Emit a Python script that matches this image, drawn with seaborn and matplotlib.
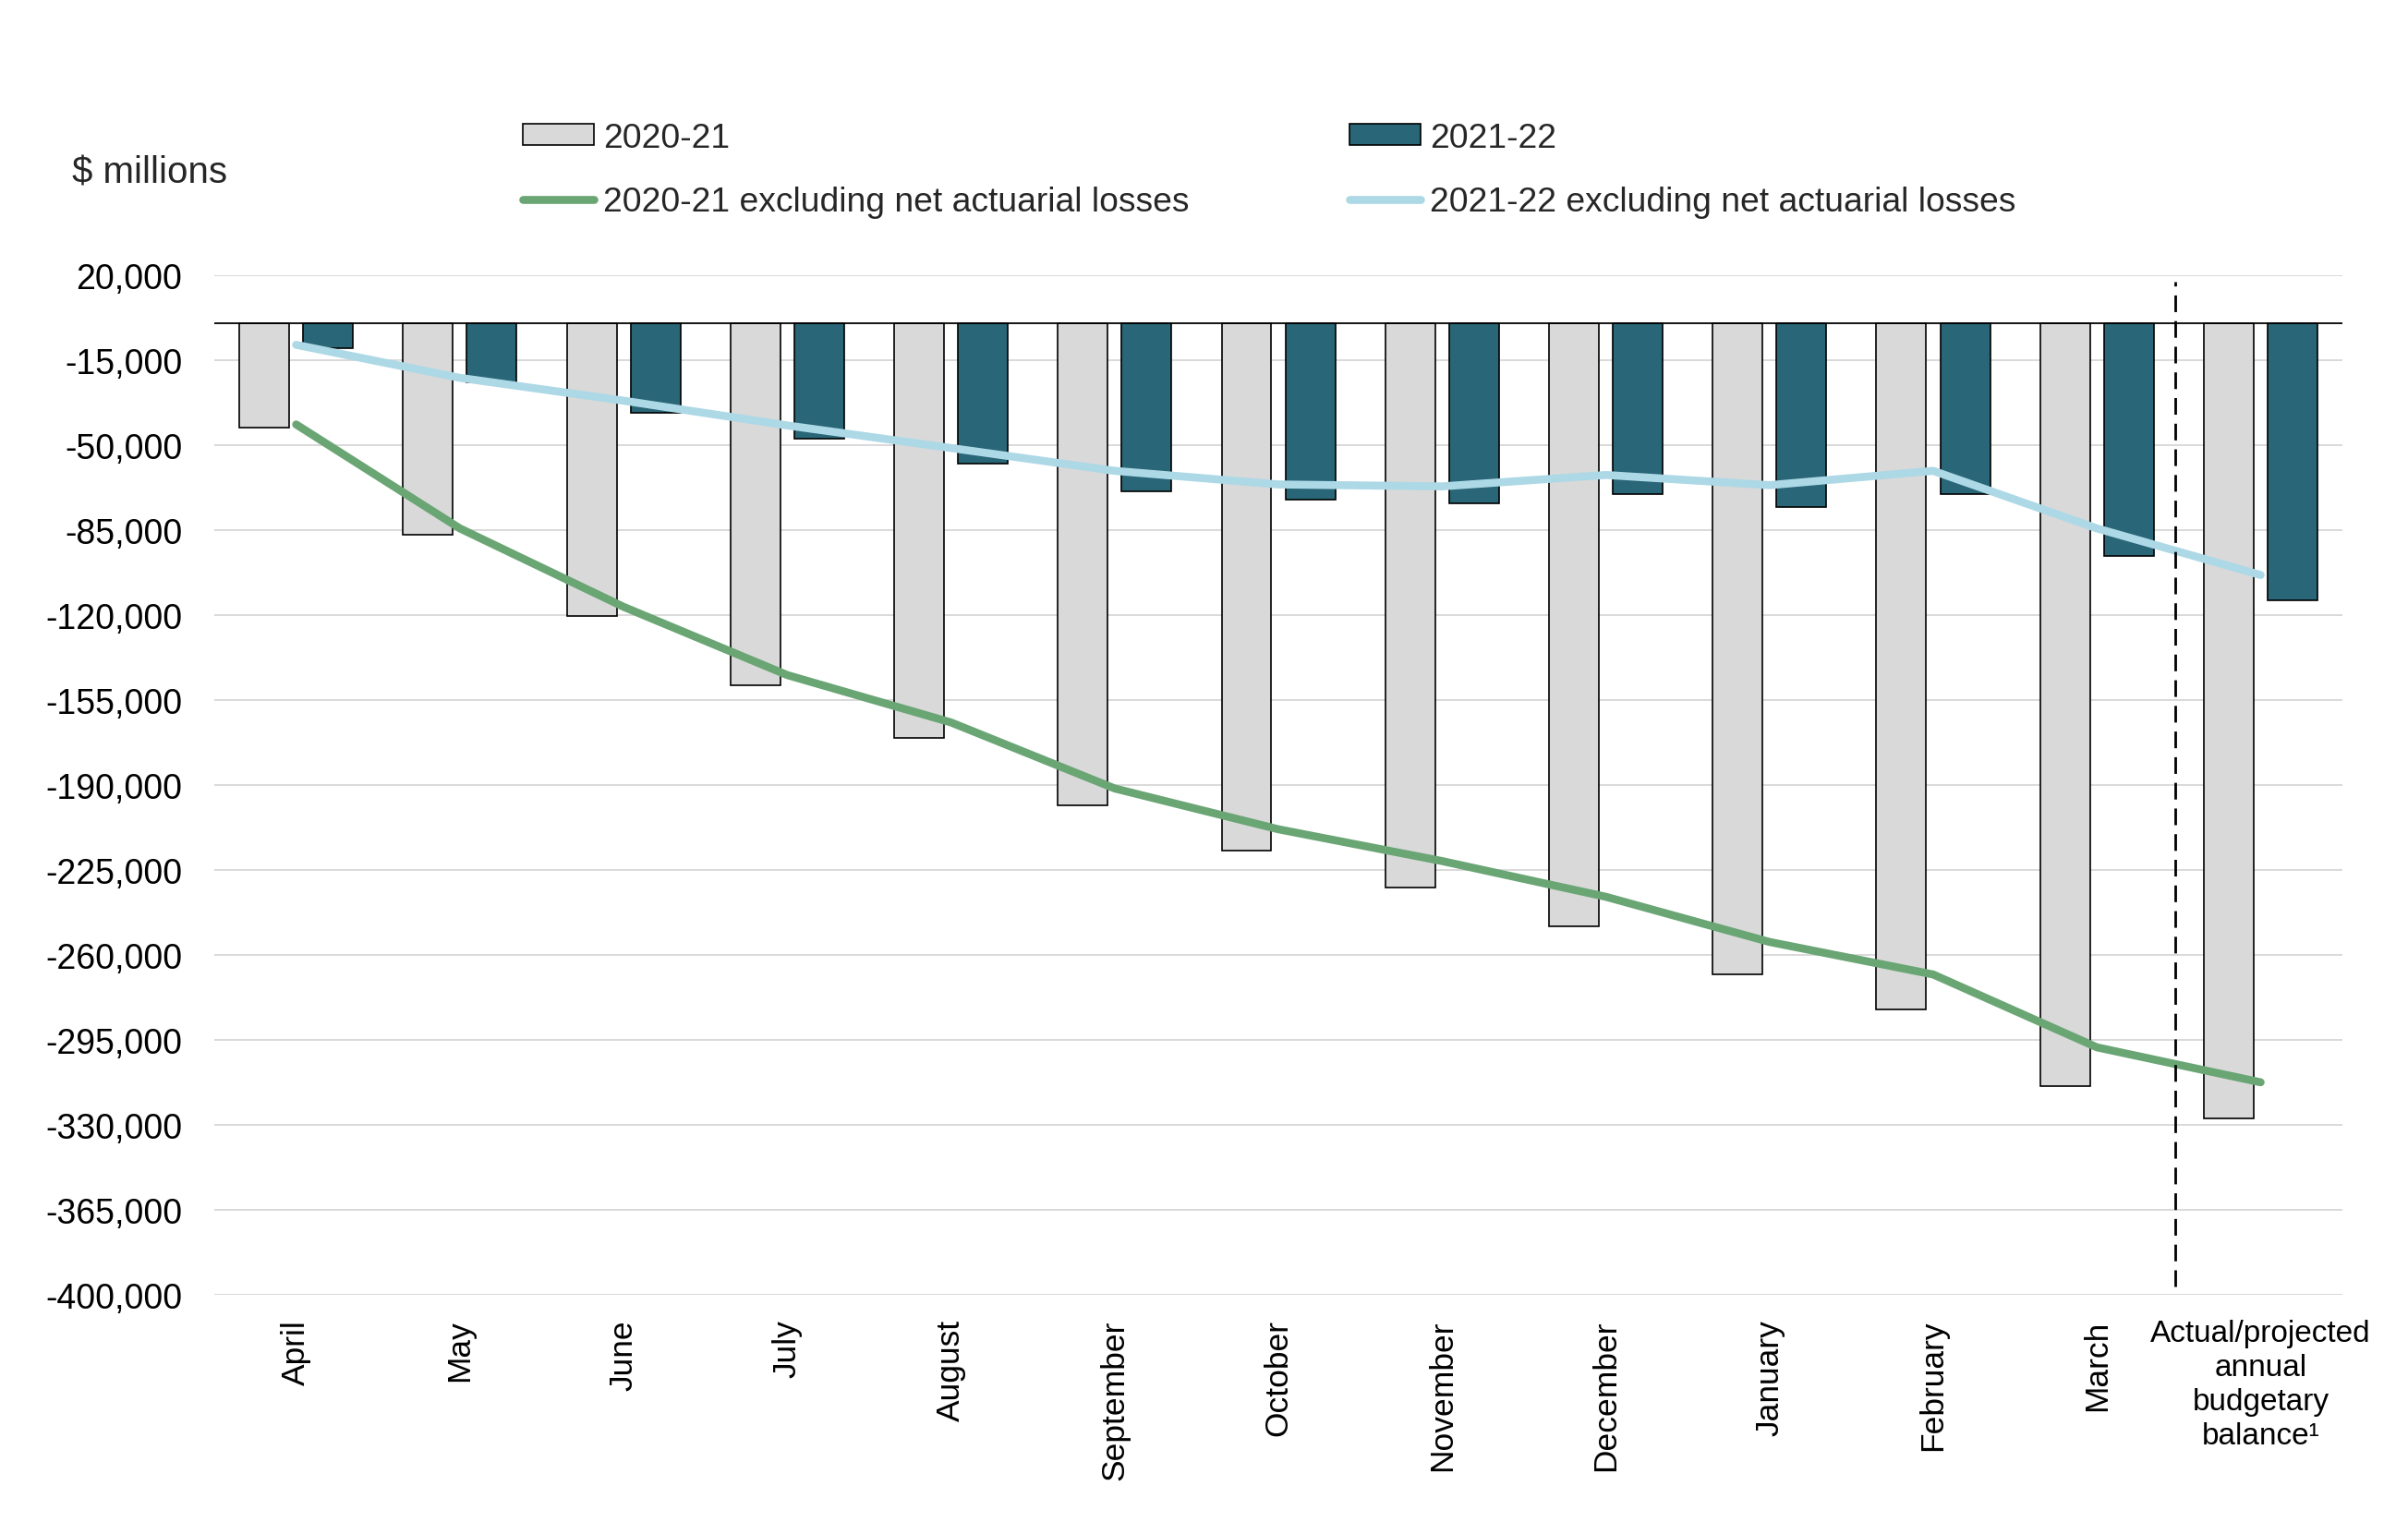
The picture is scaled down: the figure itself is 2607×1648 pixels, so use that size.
import numpy as np
import pandas as pd
import matplotlib
matplotlib.use("Agg")
import matplotlib.pyplot as plt
import seaborn as sns
from matplotlib.patches import Patch
from matplotlib.lines import Line2D
from matplotlib.ticker import FuncFormatter

sns.set_theme(style="white")
plt.rcParams["font.family"] = ["Liberation Sans", "DejaVu Sans"]

# ---- data ----
months = ["April", "May", "June", "July", "August", "September", "October",
          "November", "December", "January", "February", "March",
          "Actual/projected\nannual\nbudgetary\nbalance\u00b9"]
bal_2020_21 = [-43000, -87000, -120600, -149000, -170700, -198600, -216900,
               -232400, -248200, -268200, -282500, -314100, -327500]
bal_2021_22 = [-10000, -24100, -36900, -47600, -57600, -69000, -72500,
               -74100, -70300, -75600, -70200, -95800, -114200]
excl_2020_21 = [-41600, -84400, -116700, -144800, -164300, -191500, -208300,
                -221400, -236100, -254700, -268100, -298100, -312500]
excl_2021_22 = [-8800, -22400, -31800, -42000, -51300, -60700, -66300,
                -67100, -62400, -66600, -60700, -84400, -103600]
y_ticks = list(range(20000, -400001, -35000))

bar_series = ["2020-21", "2021-22"]
line_series = ["2020-21 excluding net actuarial losses",
               "2021-22 excluding net actuarial losses"]
colors = {"2020-21": "#d9d9d9", "2021-22": "#296677",
          line_series[0]: "#6aa574", line_series[1]: "#add8e6"}

bars_df = pd.DataFrame({
    "Month": months * 2,
    "Value": bal_2020_21 + bal_2021_22,
    "Year": [bar_series[0]] * len(months) + [bar_series[1]] * len(months),
})
lines_df = pd.DataFrame({
    "pos": list(range(len(months))) * 2,
    "Value": excl_2020_21 + excl_2021_22,
    "Series": [line_series[0]] * len(months) + [line_series[1]] * len(months),
})

# ---- figure ----
fig = plt.figure(figsize=(26.07, 16.49), dpi=100)
ax = fig.add_axes([0.089, 0.1492, 0.9728 - 0.089, 0.8189 - 0.1492])

sns.barplot(data=bars_df, x="Month", y="Value", hue="Year", order=months,
            hue_order=bar_series, palette=colors, saturation=1,
            width=0.78, gap=0.22, edgecolor="black", linewidth=1.2,
            errorbar=None, legend=False, ax=ax, zorder=2)
sns.lineplot(data=lines_df, x="pos", y="Value", hue="Series",
             hue_order=line_series, palette=colors, linewidth=6.2,
             sort=False, legend=False, ax=ax, zorder=4,
             solid_capstyle="round")

ax.axhline(0, color="black", lw=1.3, zorder=3)
ax.axvline(11.48, ymin=0.008, ymax=0.993, color="black", lw=2,
           dashes=(6.5, 3.5), zorder=5)

ax.set_xlim(-0.5, len(months) - 0.5)
ax.set_ylim(-400000, 20000)
ax.set_yticks(y_ticks)
ax.yaxis.set_major_formatter(FuncFormatter(lambda v, p: f"{int(v):,}"))
ax.yaxis.grid(True, color="#d9d9d9", lw=1.4)
ax.xaxis.grid(False)
ax.set_axisbelow(True)
for s in ax.spines.values():
    s.set_visible(False)
ax.set_xlabel("")
ax.set_ylabel("")
ax.tick_params(axis="y", length=0, pad=25, labelsize=27, colors="black")
ax.tick_params(axis="x", length=0, pad=19, labelsize=25.5, colors="black")

ticklabels = ax.get_xticklabels()
for lbl in ticklabels[:-1]:
    lbl.set_rotation(90)
ticklabels[-1].set_rotation(0)
ticklabels[-1].set_fontsize(24)
ticklabels[-1].set_linespacing(1.25)
ticklabels[-1].set_ha("center")

fig.text(0.0301, 0.8862, "$ millions", ha="left", va="center", fontsize=29)

handles = [
    Patch(facecolor=colors["2020-21"], edgecolor="black", lw=1.2),
    Line2D([], [], color=colors[line_series[0]], lw=6.2, solid_capstyle="round"),
    Patch(facecolor=colors["2021-22"], edgecolor="black", lw=1.2),
    Line2D([], [], color=colors[line_series[1]], lw=6.2, solid_capstyle="round"),
]
labels = [bar_series[0], line_series[0], bar_series[1], line_series[1]]
fig.legend(handles, labels, loc="upper left", bbox_to_anchor=(0.2170, 0.9195),
           bbox_transform=fig.transFigure, ncol=2, frameon=False,
           fontsize=26.8, borderpad=0, borderaxespad=0, handlelength=2.08,
           handleheight=0.55, handletextpad=0.27, columnspacing=4.65,
           labelspacing=0.92)

fig.savefig("out.png", dpi=100)
